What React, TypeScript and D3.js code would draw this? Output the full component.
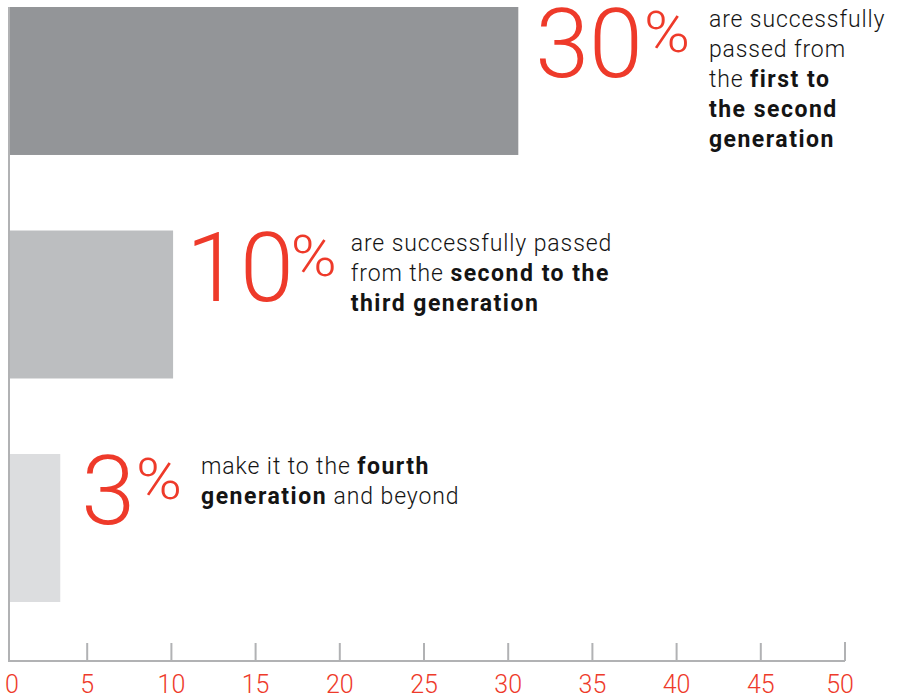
import React, { useEffect, useRef } from "react";
import * as d3 from "d3";

const categories = ["first-second", "second-third", "fourth+"];
const pctLabels = [30, 10, 3];
const barValues = [30.6, 10.1, 3.4];
const barColors = ["#939598", "#bcbec0", "#dcdddf"];
const descLines: { t: string; b: boolean }[][][] = [
  [
    [{ t: "are successfully", b: false }],
    [{ t: "passed from", b: false }],
    [{ t: "the ", b: false }, { t: "first to", b: true }],
    [{ t: "the second", b: true }],
    [{ t: "generation", b: true }],
  ],
  [
    [{ t: "are successfully passed", b: false }],
    [{ t: "from the ", b: false }, { t: "second to the", b: true }],
    [{ t: "third generation", b: true }],
  ],
  [
    [{ t: "make it to the ", b: false }, { t: "fourth", b: true }],
    [{ t: "generation", b: true }, { t: " and beyond", b: false }],
  ],
];
const ticks = [0, 5, 10, 15, 20, 25, 30, 35, 40, 45, 50];

const W = 901;
const H = 698;
const RED = "#ee3a2a";
const FONT = "Roboto, 'Liberation Sans', sans-serif";

export default function App() {
  const ref = useRef<SVGSVGElement>(null);
  useEffect(() => {
    const svg = d3.select(ref.current);
    svg.selectAll("*").remove();
    const x = d3.scaleLinear().domain([0, 50]).range([3, 845]);
    const axisX0 = 9;
    const axisY = 661;
    const y = d3
      .scaleBand<string>()
      .domain(categories)
      .range([7, 602])
      .paddingInner(0.338)
      .paddingOuter(0);

    // bars
    svg
      .selectAll("rect.bar")
      .data(categories)
      .join("rect")
      .attr("class", "bar")
      .attr("x", axisX0)
      .attr("y", (d) => y(d)!)
      .attr("width", (d, i) => x(barValues[i]) - axisX0)
      .attr("height", y.bandwidth())
      .attr("fill", (d, i) => barColors[i]);

    // axis lines
    svg
      .append("line")
      .attr("x1", axisX0)
      .attr("x2", axisX0)
      .attr("y1", 7)
      .attr("y2", axisY + 1)
      .attr("stroke", "#b1b2b4")
      .attr("stroke-width", 2);
    svg
      .append("line")
      .attr("x1", axisX0)
      .attr("x2", x(50))
      .attr("y1", axisY)
      .attr("y2", axisY)
      .attr("stroke", "#b1b2b4")
      .attr("stroke-width", 2);
    svg
      .selectAll("line.tick")
      .data(ticks.filter((t) => t > 0))
      .join("line")
      .attr("class", "tick")
      .attr("x1", (d) => x(d))
      .attr("x2", (d) => x(d))
      .attr("y1", axisY)
      .attr("y2", (d) => (d === 50 ? axisY - 19 : axisY - 18))
      .attr("stroke", "#b1b2b4")
      .attr("stroke-width", 2);
    svg
      .selectAll("text.tl")
      .data(ticks)
      .join("text")
      .attr("class", "tl")
      .attr("x", (d) => (d === 0 ? x(d) + 9 : d === 50 ? x(d) - 5 : x(d)))
      .attr("y", 693)
      .attr("text-anchor", "middle")
      .attr("font-family", FONT)
      .attr("font-weight", 300)
      .attr("font-size", 25)
      .attr("fill", RED)
      .text((d) => String(d));

    // annotations
    categories.forEach((c, i) => {
      const top = y(c)!;
      const g = svg.append("g");
      const off = pctLabels[i] === 10 ? 13 : pctLabels[i] === 3 ? 21 : 17;
      const numX = x(barValues[i]) + off;
      const num = g
        .append("text")
        .attr("x", numX)
        .attr("y", top + 70)
        .attr("font-family", FONT)
        .attr("font-weight", 300)
        .attr("font-size", 97)
        .attr("fill", RED)
        .text(String(pctLabels[i]));
      const nw = (num.node() as SVGTextElement).getComputedTextLength();
      const px = numX + nw + (pctLabels[i] === 10 ? -3 : 1);
      const pw = 46;
      g.append("text")
        .attr("x", px)
        .attr("y", top + 45)
        .attr("font-family", FONT)
        .attr("font-weight", 300)
        .attr("font-size", 57)
        .attr("textLength", pw)
        .attr("lengthAdjust", "spacingAndGlyphs")
        .attr("fill", RED)
        .text("%");
      const tx = px + pw + (pctLabels[i] === 10 ? 14 : 19);
      const t = g
        .append("text")
        .attr("font-family", FONT)
        .attr("font-size", 23)
        .attr("fill", "#141414");
      descLines[i].forEach((line, li) => {
        line.forEach((seg, si) => {
          const ts = t
            .append("tspan")
            .attr("font-weight", seg.b ? 700 : 300)
            .attr("letter-spacing", seg.b ? 1.5 : 0.9)
            .text(seg.t);
          if (si === 0) ts.attr("x", tx).attr("y", top + 20 + li * 30);
        });
      });
    });
  }, []);
  return (
    <svg
      ref={ref}
      width={W}
      height={H}
      style={{ position: "absolute", left: 0, top: 0, background: "#fff" }}
    />
  );
}
